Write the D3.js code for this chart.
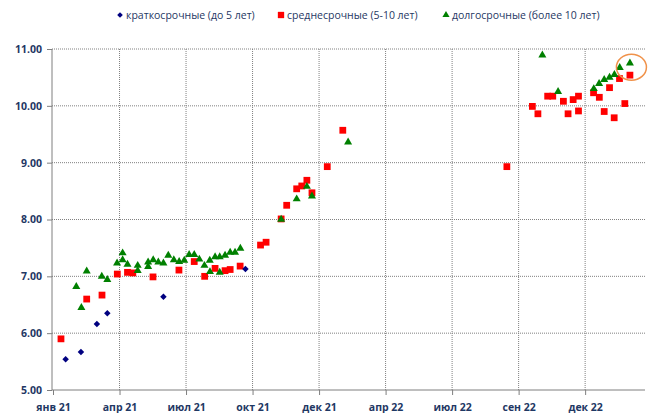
<!DOCTYPE html>
<html>
<head>
<meta charset="utf-8">
<script src="https://cdn.jsdelivr.net/npm/d3@7"></script>
<style>
  body { margin: 0; background: #fff; }
  svg { display: block; }
  .lbl { font-family: "Open Sans", sans-serif; font-weight: bold; font-size: 10.5px; fill: #1f3864; }
  .leg { font-family: "Open Sans", sans-serif; font-size: 10.5px; fill: #1f3864; }
</style>
</head>
<body>
<script>
var width = 648;
var height = 413;

// x values are months counted from January 2021 (axis ticks every 3)
var xTickValues = [0, 3, 6, 9, 12, 15, 18, 21, 24];
var xTickLabels = ["янв 21", "апр 21", "июл 21", "окт 21", "дек 21", "апр 22", "июл 22", "сен 22", "дек 22"];
var yTickValues = [5, 6, 7, 8, 9, 10, 11];

var seriesNames = ["краткосрочные (до 5 лет)", "среднесрочные (5-10 лет)", "долгосрочные (более 10 лет)"];

// short term
var shortX = [0.57, 1.26, 1.98, 2.45, 4.98, 8.68];
var shortY = [5.54, 5.67, 6.16, 6.35, 6.64, 7.13];

// medium term
var midX = [0.36, 1.52, 2.21, 2.90, 3.36, 3.60, 4.51, 5.68, 6.37, 6.84, 7.31, 7.76, 7.99, 8.44,
            9.36, 9.61, 10.29, 10.54, 10.99, 11.22, 11.45, 11.68, 12.37, 13.07,
            20.47, 21.62, 21.87, 22.31, 22.54, 23.02, 23.23, 23.46, 23.70, 23.70,
            24.38, 24.64, 24.86, 25.10, 25.31, 25.55, 25.79, 26.02];
var midY = [5.90, 6.60, 6.67, 7.04, 7.07, 7.06, 6.99, 7.11, 7.26, 7.00, 7.14, 7.10, 7.12, 7.18,
            7.55, 7.60, 8.01, 8.25, 8.54, 8.59, 8.69, 8.47, 8.93, 9.57,
            8.93, 9.99, 9.86, 10.17, 10.17, 10.08, 9.86, 10.11, 10.17, 9.91,
            10.23, 10.15, 9.90, 10.32, 9.79, 10.48, 10.04, 10.54];

// long term
var longX = [1.05, 1.28, 1.52, 2.20, 2.45, 2.89, 3.14, 3.14, 3.36, 3.82, 3.82, 4.29, 4.29, 4.52,
             4.75, 4.98, 5.20, 5.45, 5.69, 5.92, 6.14, 6.37, 6.60, 6.83, 7.07, 7.08, 7.31,
             7.52, 7.52, 7.76, 7.99, 8.21, 8.45,
             10.29, 10.99, 11.45, 11.68, 13.31,
             22.07, 22.78, 24.39, 24.63, 24.86, 25.10, 25.32, 25.56, 26.02];
var longY = [6.82, 6.45, 7.09, 7.00, 6.94, 7.23, 7.41, 7.29, 7.21, 7.19, 7.10, 7.25, 7.17, 7.29,
             7.25, 7.23, 7.37, 7.29, 7.26, 7.28, 7.38, 7.38, 7.30, 7.19, 7.28, 7.08, 7.34,
             7.34, 7.07, 7.37, 7.42, 7.42, 7.49,
             8.00, 8.36, 8.58, 8.41, 9.36,
             10.89, 10.25, 10.30, 10.39, 10.46, 10.50, 10.55, 10.67, 10.75];

var margin = {left: 52, right: 3, top: 49, bottom: 23};

var svg = d3.select("body").append("svg")
    .attr("width", width)
    .attr("height", height);

var x = d3.scaleLinear()
    .domain([0, 26.7])
    .range([margin.left + 1, width - margin.right]);

var y = d3.scaleLinear()
    .domain([5, 11])
    .range([height - margin.bottom, margin.top]);

//Gridlines
svg.append("g")
    .selectAll("line")
    .data(yTickValues.slice(1))
    .enter().append("line")
    .attr("x1", x.range()[0] - 1).attr("x2", x.range()[1])
    .attr("y1", function(d) { return y(d); })
    .attr("y2", function(d) { return y(d); })
    .attr("stroke", "#808080")
    .attr("stroke-dasharray", "1,1");

svg.append("g")
    .selectAll("line")
    .data(xTickValues.slice(1))
    .enter().append("line")
    .attr("x1", function(d) { return x(d); })
    .attr("x2", function(d) { return x(d); })
    .attr("y1", y(11)).attr("y2", y(5))
    .attr("stroke", "#808080")
    .attr("stroke-dasharray", "1,1");

//Axes
var xAxis = d3.axisBottom(x)
    .tickValues(xTickValues)
    .tickSize(5)
    .tickFormat(function(d, i) { return xTickLabels[i]; });

var gx = svg.append("g")
    .attr("transform", "translate(0," + y(5) + ")")
    .call(xAxis);
gx.select(".domain").attr("stroke", "#7f7f7f").attr("d", "M" + (x.range()[0] - 1) + ",0H" + x.range()[1]);
gx.selectAll(".tick line").attr("stroke", "#7f7f7f");
gx.selectAll(".tick text").attr("class", "lbl").attr("dy", 0).attr("y", 21);

var yAxis = d3.axisLeft(y)
    .tickValues(yTickValues)
    .tickSize(5)
    .tickFormat(d3.format(".2f"));

var gy = svg.append("g")
    .attr("transform", "translate(" + (x.range()[0] - 1) + ",0)")
    .call(yAxis);
gy.select(".domain").attr("stroke", "#7f7f7f").attr("d", "M0," + y(5) + "V" + y(11));
gy.selectAll(".tick line").attr("stroke", "#7f7f7f");
gy.selectAll(".tick text").attr("class", "lbl").attr("x", -10);

//Markers - diamond is a square turned 45 degrees
var square = d3.symbol().type(d3.symbolSquare).size(46);
var triangle = d3.symbol().type(d3.symbolTriangle).size(28);
var diamond = d3.symbol().type(d3.symbolSquare).size(21);

function drawSeries(xs, ys, sym, color, rot) {
    svg.append("g")
        .selectAll("path")
        .data(xs)
        .enter().append("path")
        .attr("d", sym)
        .attr("transform", function(d, i) {
            return "translate(" + x(d) + "," + y(ys[i]) + ") rotate(" + rot + ")";
        })
        .attr("fill", color);
}

drawSeries(midX, midY, square, "#ff0000", 0);
drawSeries(longX, longY, triangle, "#008000", 0);
drawSeries(shortX, shortY, diamond, "#000080", 45);

//Highlight the latest point
var lastI = longX.length - 1;
svg.append("ellipse")
    .attr("cx", x(longX[lastI]) + 1.5)
    .attr("cy", y(longY[lastI]) + 4)
    .attr("rx", 15)
    .attr("ry", 13)
    .attr("fill", "none")
    .attr("stroke", "#f0924a")
    .attr("stroke-width", 1.5);

//Legend
var legendX = [120, 281, 446];
var legendSyms = [d3.symbol().type(d3.symbolSquare).size(16),
                  d3.symbol().type(d3.symbolSquare).size(40),
                  d3.symbol().type(d3.symbolTriangle).size(22)];
var legendRot = [45, 0, 0];
var legendColors = ["#000080", "#ff0000", "#008000"];

var leg = svg.append("g").selectAll("g")
    .data(seriesNames)
    .enter().append("g")
    .attr("transform", function(d, i) { return "translate(" + legendX[i] + ",15)"; });

leg.append("path")
    .attr("d", function(d, i) { return legendSyms[i](); })
    .attr("transform", function(d, i) { return "rotate(" + legendRot[i] + ")"; })
    .attr("fill", function(d, i) { return legendColors[i]; });

leg.append("text")
    .attr("class", "leg")
    .attr("x", 6)
    .attr("y", 4)
    .text(function(d) { return d; });
</script>
</body>
</html>
